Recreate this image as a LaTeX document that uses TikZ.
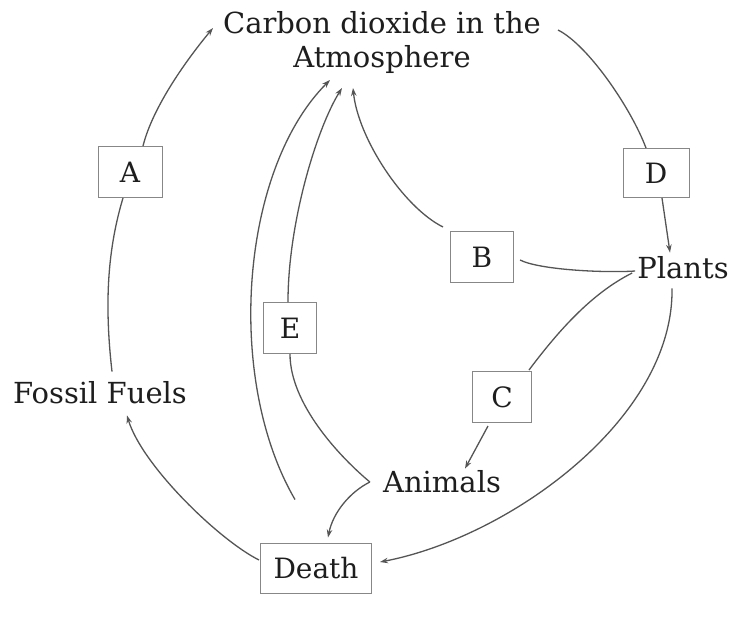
\documentclass[tikz,border=0pt]{standalone}
\usepackage{fontspec}
\setmainfont{DejaVu Serif}
\usetikzlibrary{arrows.meta}
\definecolor{lnc}{RGB}{85,85,85}
\definecolor{bxc}{RGB}{135,135,135}
\definecolor{txc}{RGB}{30,30,30}
\begin{document}
\begin{tikzpicture}[x=1pt,y=-1pt,
  lbl/.style={font=\fontsize{29}{34}\selectfont, text=txc, inner sep=3pt},
  boxn/.style={draw=bxc, line width=1pt, font=\fontsize{28}{30}\selectfont, text=txc, inner sep=0pt},
  conn/.style={draw=lnc, line width=1.3pt},
  arr/.style={conn, -{Stealth[length=8pt,width=5.5pt]}}]
\useasboundingbox (0,0) rectangle (734,625);
\fill[white] (0,0) rectangle (734,625);
% text nodes
\node[lbl, align=center] (co2) at (382,42) {Carbon dioxide in the\\Atmosphere};
\node[lbl] (fos) at (100,393) {Fossil Fuels};
\node[lbl] (pl) at (683,268) {Plants};
\node[lbl] (an) at (442,482) {Animals};
% boxes
\node[boxn, minimum width=64pt, minimum height=51pt] (A) at (130,172) {A};
\node[boxn, minimum width=63pt, minimum height=51pt] (B) at (482,257) {B};
\node[boxn, minimum width=59pt, minimum height=51pt] (C) at (502,397) {C};
\node[boxn, minimum width=66pt, minimum height=49pt] (D) at (656,173) {D};
\node[boxn, minimum width=53pt, minimum height=51pt] (E) at (290,328) {E};
\node[boxn, minimum width=111pt, minimum height=50pt] (De) at (316,568) {Death};
% connectors
\draw[conn] ([shift={(12,-7)}]fos.north) .. controls +(-8,-70) and +(-15,50) .. ([shift={(-7,0)}]A.south);
\draw[arr] ([shift={(13,0)}]A.north) .. controls +(10,-40) and +(-25,30) .. ([shift={(-169,-14)}]co2.center);
\draw[conn] ([shift={(176,-12)}]co2.center) .. controls +(30,15) and +(-15,-40) .. ([shift={(-10,0)}]D.north);
\draw[arr] ([shift={(6,0)}]D.south) -- ([shift={(-13,-1)}]pl.north);
\draw[conn] ([shift={(1,3)}]pl.west) .. controls +(-30,2) and +(20,10) .. ([shift={(6,3)}]B.east);
\draw[arr] ([shift={(-7,-4)}]B.north west) .. controls +(-40,-20) and +(5,50) .. ([shift={(-29,46)}]co2.center);
\draw[conn] ([shift={(-2,5)}]pl.west) .. controls +(-40,20) and +(30,-40) .. ([shift={(-3,-1)}]C.north east);
\draw[arr] ([shift={(-14,3)}]C.south) -- ([shift={(23,1)}]an.north);
\draw[arr] ([shift={(-11,6)}]pl.south) .. controls +(2,130) and +(130,-25) .. ([shift={(8,-6)}]De.east);
\draw[conn] ([shift={(-10,0)}]an.west) .. controls +(-30,-25) and +(0,50) .. (E.south);
\draw[arr] ([shift={(-2,0)}]E.north) .. controls +(0,-80) and +(-25,40) .. ([shift={(-40,46)}]co2.center);
\draw[arr] ([shift={(-10,0)}]an.west) .. controls +(-20,10) and +(5,-25) .. ([shift={(12,-5)}]De.north);
\draw[arr] ([shift={(-21,-43)}]De.north) .. controls +(-70,-120) and +(-90,90) .. ([shift={(-52,38)}]co2.center);
\draw[arr] ([shift={(-1,-8)}]De.west) .. controls +(-40,-20) and +(15,50) .. ([shift={(27,8)}]fos.south);
\end{tikzpicture}
\end{document}
